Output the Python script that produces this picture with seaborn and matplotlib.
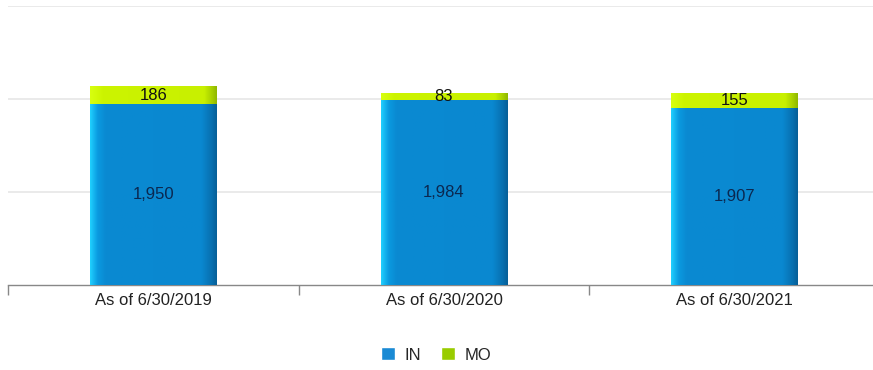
import matplotlib
matplotlib.use("Agg")
import matplotlib.pyplot as plt
from matplotlib.patches import Patch
from matplotlib.colors import LinearSegmentedColormap
import numpy as np
import seaborn as sns
import pandas as pd

categories = ["As of 6/30/2019", "As of 6/30/2020", "As of 6/30/2021"]
in_values = [1950, 1984, 1907]
mo_values = [186, 83, 155]

sns.set_theme(style="white")
plt.rcParams['font.family'] = ['Liberation Sans Narrow', 'Liberation Sans', 'DejaVu Sans']

df = pd.DataFrame({"cat": categories, "IN": in_values, "MO": mo_values})
df["total"] = df["IN"] + df["MO"]

fig = plt.figure(figsize=(8.73, 3.70), dpi=100)
ax = fig.add_axes([8/873, 85/370, 872/873, 279/370])

blue = "#0a8ad2"
green = "#ccf000"

sns.barplot(data=df, x="cat", y="total", color=green, saturation=1, width=0.435, ax=ax, zorder=2, linewidth=0)
n_green = len(ax.patches)
sns.barplot(data=df, x="cat", y="IN", color=blue, saturation=1, width=0.435, ax=ax, zorder=3, linewidth=0)

ax.set_ylim(0, 3000)
ax.set_xlim(-0.5, 2.5)

# bevel-like shading on bars
blue_cmap = LinearSegmentedColormap.from_list("b", [(0, "#20d0ff"), (0.06, "#0a9ae0"), (0.12, "#0a8ad2"),
                                                    (0.88, "#0a88d0"), (0.96, "#0870b0"), (1, "#075f98")])
green_cmap = LinearSegmentedColormap.from_list("g", [(0, "#d8ff10"), (0.1, "#ccf400"), (0.9, "#c8f000"),
                                                     (0.96, "#a8d000"), (1, "#90b800")])
grad = np.linspace(0, 1, 256).reshape(1, -1)
for k, p in enumerate(list(ax.patches)):
    cmap = green_cmap if k < n_green else blue_cmap
    x0, y0 = p.get_x(), p.get_y()
    w, h = p.get_width(), p.get_height()
    im = ax.imshow(grad, cmap=cmap, aspect="auto", extent=[x0, x0 + w, y0, y0 + h],
                   zorder=p.get_zorder() + 0.1, interpolation="bilinear")
    im.set_clip_path(p)
ax.set_xlim(-0.5, 2.5)
ax.set_ylim(0, 3000)

ax.set_yticks([1000, 2000, 3000])
ax.set_yticklabels([])
ax.yaxis.grid(True, color="#e6e6e6", linewidth=1.2, zorder=0)
ax.set_axisbelow(True)
ax.set_xlabel("")
ax.set_ylabel("")
for s in ["top", "right", "left"]:
    ax.spines[s].set_visible(False)
ax.spines["bottom"].set_color("#888888")
ax.spines["bottom"].set_linewidth(1.0)

ax.set_xticks([0, 1, 2])
ax.set_xticklabels(categories, fontsize=12, color="#222222")
ax.set_xticks([-0.5, 0.5, 1.5, 2.5], minor=True)
ax.tick_params(axis="x", which="major", bottom=True, length=0, pad=6)
ax.tick_params(axis="x", which="minor", bottom=True, length=7, color="#888888", direction="out", width=1)
ax.tick_params(axis="y", length=0)

for i, (iv, mv) in enumerate(zip(in_values, mo_values)):
    ax.text(i, iv / 2, f"{iv:,}", ha="center", va="center", fontsize=12, color="#0b2850", zorder=10)
    ax.text(i, iv + mv / 2, f"{mv:,}", ha="center", va="center", fontsize=12, color="#111111", zorder=10)

handles = [Patch(facecolor="#1a8ad4", label="IN"), Patch(facecolor="#99cc00", label="MO")]
fig.legend(handles=handles, loc="center", bbox_to_anchor=(0.5, 15/370), ncol=2,
           frameon=False, fontsize=12, handlelength=0.8, handleheight=0.8, handletextpad=0.6, columnspacing=1.2)

fig.savefig("out.png", dpi=100)
